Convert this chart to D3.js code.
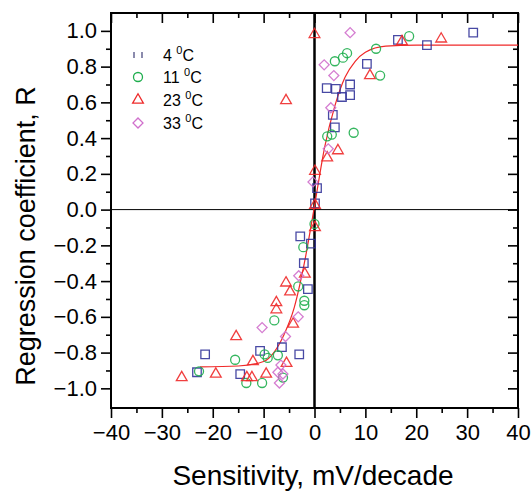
<!DOCTYPE html>
<html>
<head>
<meta charset="utf-8">
<script src="https://cdn.jsdelivr.net/npm/d3@7"></script>
<style>
  body { margin: 0; background: #fff; }
  svg { display: block; font-family: Arial, "Liberation Sans", sans-serif; }
</style>
</head>
<body>
<svg id="chart" width="532" height="492"></svg>
<script>
// data: [sensitivity (mV/decade), R]
const data4 = [[16.4,0.95],[22.1,0.92],[31.2,0.99],[10.3,0.815],[2.4,0.68],[4.2,0.675],[7.0,0.70],
  [5.4,0.63],[7.0,0.64],[3.6,0.53],[4.0,0.46],[0.5,0.12],[0.1,0.035],[-2.8,-0.15],[-0.7,-0.19],
  [-2.1,-0.30],[-1.3,-0.445],[-21.5,-0.81],[-23.1,-0.91],[-10.7,-0.79],[-14.6,-0.92],[-6.4,-0.77],[-3.0,-0.81]];
const data11 = [[18.6,0.97],[12.1,0.90],[12.9,0.75],[4.0,0.83],[5.6,0.85],[6.4,0.875],[2.5,0.41],
  [3.4,0.42],[7.7,0.43],[0,-0.08],[-2.2,-0.21],[-3.2,-0.43],[-2.0,-0.51],[-2.0,-0.535],[-7.9,-0.62],
  [-22.7,-0.905],[-15.6,-0.84],[-9.8,-0.81],[-9.2,-0.83],[-7.2,-0.815],[-13.4,-0.97],[-10.3,-0.97],[-6.2,-0.94]];
const data23 = [[0,0.98],[10.9,0.75],[-5.6,0.61],[17.2,0.94],[24.9,0.955],[4.6,0.33],[2.5,0.29],
  [0.1,0.215],[0.1,0.025],[0.1,-0.10],[-5.6,-0.41],[-4.8,-0.46],[-7.5,-0.52],[-7.5,-0.56],[-1.9,-0.36],
  [-4.2,-0.64],[-15.4,-0.71],[-26.1,-0.94],[-19.4,-0.92],[-12.1,-0.85],[-9.5,-0.92],[-13.3,-0.94],
  [-12.3,-0.94],[-5.5,-0.86]];
const data33 = [[7.0,0.99],[1.9,0.81],[3.8,0.75],[3.2,0.57],[2.7,0.34],[-0.3,0.155],[-3.1,-0.37],
  [-3.2,-0.60],[-10.3,-0.66],[-5.7,-0.71],[-6.6,-0.87],[-7.2,-0.91],[-6.2,-0.92],[-6.9,-0.97]];

// fitted curve
const fitX = [-22.5,-15,-10,-8,-6,-4,-2,0,2,4,6,8,10,14,20,40];
const fitY = [-0.88,-0.875,-0.85,-0.8,-0.7,-0.55,-0.3,0.02,0.35,0.58,0.74,0.83,0.88,0.915,0.92,0.92];

const xTicks = [-40,-30,-20,-10,0,10,20,30,40];
const xMinor = [-35,-25,-15,-5,5,15,25,35];
const yTicks = [-1.0,-0.8,-0.6,-0.4,-0.2,0.0,0.2,0.4,0.6,0.8,1.0];
const yMinor = [-0.9,-0.7,-0.5,-0.3,-0.1,0.1,0.3,0.5,0.7,0.9];

const legendLabels = ["4", "11", "23", "33"];

const svg = d3.select("#chart");
const plotL = 111, plotR = 518, plotT = 13, plotB = 408;

let x = d3.scaleLinear().domain([-40, 40]).range([plotL, plotR]);
let y = d3.scaleLinear().domain([-1.11, 1.10]).range([plotB, plotT]);

// zero lines
svg.append("line")
  .attr("x1", plotL).attr("x2", plotR)
  .attr("y1", y(0)).attr("y2", y(0))
  .attr("stroke", "#000").attr("stroke-width", 1);
svg.append("line")
  .attr("x1", x(0)).attr("x2", x(0))
  .attr("y1", plotT).attr("y2", plotB)
  .attr("stroke", "#000").attr("stroke-width", 2.5);

// axes: left / bottom ticks outward, top / right inward
function styleAxis(g) {
  g.select(".domain").remove();
  g.selectAll(".tick line").attr("stroke", "#000").attr("stroke-width", 1.6);
  g.selectAll("text").attr("font-size", 22).attr("fill", "#000");
}
const fmtY = d3.format(".1f");

svg.append("g").attr("transform", `translate(0,${plotB})`)
  .call(d3.axisBottom(x).tickValues(xTicks).tickSize(10).tickPadding(6).tickFormat(d3.format("d")))
  .call(styleAxis);
svg.append("g").attr("transform", `translate(0,${plotB})`)
  .call(d3.axisBottom(x).tickValues(xMinor).tickSize(5).tickFormat(""))
  .call(styleAxis);
svg.append("g").attr("transform", `translate(0,${plotT})`)
  .call(d3.axisBottom(x).tickValues(xTicks).tickSize(10).tickFormat(""))
  .call(styleAxis);
svg.append("g").attr("transform", `translate(0,${plotT})`)
  .call(d3.axisBottom(x).tickValues(xMinor).tickSize(5).tickFormat(""))
  .call(styleAxis);

svg.append("g").attr("transform", `translate(${plotL},0)`)
  .call(d3.axisLeft(y).tickValues(yTicks).tickSize(10).tickPadding(4).tickFormat(fmtY))
  .call(styleAxis);
svg.append("g").attr("transform", `translate(${plotL},0)`)
  .call(d3.axisLeft(y).tickValues(yMinor).tickSize(5).tickFormat(""))
  .call(styleAxis);
svg.append("g").attr("transform", `translate(${plotR},0)`)
  .call(d3.axisLeft(y).tickValues(yTicks).tickSize(10).tickFormat(""))
  .call(styleAxis);
svg.append("g").attr("transform", `translate(${plotR},0)`)
  .call(d3.axisLeft(y).tickValues(yMinor).tickSize(5).tickFormat(""))
  .call(styleAxis);

// frame
svg.append("rect")
  .attr("x", plotL).attr("y", plotT)
  .attr("width", plotR - plotL).attr("height", plotB - plotT)
  .attr("fill", "none").attr("stroke", "#000").attr("stroke-width", 2);

// fit curve
const fitLine = d3.line()
  .x((d, i) => x(fitX[i]))
  .y(d => y(d))
  .curve(d3.curveMonotoneX);
svg.append("path")
  .datum(fitY)
  .attr("d", fitLine)
  .attr("fill", "none")
  .attr("stroke", "#f02828")
  .attr("stroke-width", 1.2);

// markers
const series = [
  { data: data4,  color: "#34359a", path: d3.symbol(d3.symbolSquare, 72)(),   rot: 0 },
  { data: data11, color: "#1fae4e", path: d3.symbol(d3.symbolCircle, 64)(),   rot: 0 },
  { data: data23, color: "#ee2a2a", path: d3.symbol(d3.symbolTriangle, 50)(), rot: 0 },
  { data: data33, color: "#d070cc", path: d3.symbol(d3.symbolSquare, 50)(),   rot: 45 }
];

series.forEach(s => {
  svg.append("g")
    .selectAll("path")
    .data(s.data)
    .enter()
    .append("path")
    .attr("d", s.path)
    .attr("transform", d => `translate(${x(d[0])},${y(d[1])}) rotate(${s.rot})`)
    .attr("fill", "none")
    .attr("stroke", s.color)
    .attr("stroke-width", 1.3)
    .attr("opacity", 0.9);
});

// legend
const legendY = [55, 77, 100, 123];
series.forEach((s, i) => {
  const ly = legendY[i];
  if (i === 0) {
    // the square shows up as two bars in the legend
    [-4, 4].forEach(dx => {
      svg.append("line")
        .attr("x1", 138 + dx).attr("x2", 138 + dx)
        .attr("y1", ly - 3).attr("y2", ly + 3)
        .attr("stroke", "#5a5a8a").attr("stroke-width", 1.4);
    });
  } else {
    svg.append("path")
      .attr("d", s.path)
      .attr("transform", `translate(138,${ly}) rotate(${s.rot})`)
      .attr("fill", "none")
      .attr("stroke", s.color)
      .attr("stroke-width", 1.3);
  }
  const t = svg.append("text")
    .attr("x", 163).attr("y", ly + 6)
    .attr("font-size", 16).attr("fill", "#000");
  t.append("tspan").text(legendLabels[i] + " ");
  t.append("tspan").attr("dy", -7).attr("font-size", 11).text("0");
  t.append("tspan").attr("dy", 7).text("C");
});

// axis titles
svg.append("text")
  .attr("x", 313).attr("y", 485)
  .attr("text-anchor", "middle")
  .attr("font-size", 28)
  .text("Sensitivity, mV/decade");
svg.append("text")
  .attr("transform", "translate(35,236) rotate(-90)")
  .attr("text-anchor", "middle")
  .attr("font-size", 27)
  .text("Regression coefficient, R");
</script>
</body>
</html>
